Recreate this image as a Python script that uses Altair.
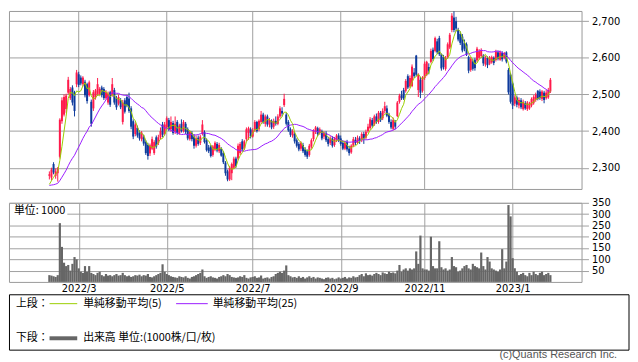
import altair as alt
import pandas as pd

# ---------------- data ----------------
tick_idx = [14, 56, 97, 139, 179, 221]
tick_labels = ["2022/3", "2022/5", "2022/7", "2022/9", "2022/11", "2023/1"]
price_ticks = [2300, 2400, 2500, 2600, 2700]
vol_ticks = [50, 100, 150, 200, 250, 300, 350]

# closes before the visible window (only used for the moving averages)
pre_closes = [2270, 2265, 2250, 2240, 2245, 2255, 2260, 2250, 2240, 2235, 2245, 2250,
              2260, 2255, 2250, 2245, 2240, 2250, 2255, 2260, 2245, 2240, 2250, 2255]

opens = [
    2278, 2273, 2310, 2278, 2285, 2330, 2427, 2445, 2460, 2505,
    2490, 2519, 2506, 2528, 2555, 2546, 2528, 2535, 2528, 2498,
    2480, 2462, 2492, 2500, 2502, 2519, 2515, 2490, 2478, 2506,
    2498, 2512, 2490, 2475, 2484, 2425, 2484, 2493, 2489, 2462,
    2427, 2392, 2409, 2396, 2378, 2383, 2370, 2362, 2339, 2352,
    2340, 2383, 2368, 2383, 2418, 2392, 2410, 2430, 2405, 2422,
    2398, 2425, 2395, 2420, 2400, 2420, 2405, 2378, 2395, 2385,
    2360, 2382, 2368, 2392, 2397, 2375, 2355, 2358, 2335, 2350,
    2365, 2345, 2352, 2340, 2314, 2290, 2268, 2285, 2300, 2325,
    2325, 2340, 2372, 2352, 2378, 2395, 2405, 2385, 2402, 2425,
    2405, 2425, 2445, 2420, 2440, 2418, 2428, 2412, 2428, 2420,
    2440, 2455, 2471, 2445, 2425, 2405, 2388, 2392, 2375, 2365,
    2352, 2362, 2350, 2345, 2335, 2358, 2378, 2398, 2408, 2395,
    2400, 2385, 2395, 2378, 2368, 2380, 2362, 2375, 2388, 2380,
    2368, 2352, 2370, 2352, 2342, 2360, 2376, 2368, 2380, 2375,
    2392, 2382, 2400, 2408, 2430, 2418, 2440, 2425, 2450, 2435,
    2455, 2462, 2445, 2425, 2406, 2425, 2441, 2480, 2498, 2512,
    2510, 2550, 2522, 2523, 2560, 2606, 2512, 2540, 2510, 2545,
    2554, 2575, 2589, 2622, 2619, 2645, 2654, 2610, 2602, 2570,
    2602, 2628, 2676, 2710, 2700, 2676, 2665, 2658, 2640, 2637,
    2602, 2567, 2590, 2595, 2593, 2600, 2605, 2606, 2582, 2600,
    2584, 2588, 2600, 2594, 2615, 2595, 2613, 2600, 2615, 2567,
    2554, 2530, 2475, 2492, 2470, 2484, 2460, 2476, 2460, 2462,
    2470, 2476, 2485, 2510, 2508, 2488, 2505, 2490, 2492, 2508,
]
highs = [
    2290, 2300, 2315, 2298, 2302, 2435, 2492, 2500, 2502, 2548,
    2520, 2525, 2510, 2567, 2562, 2552, 2550, 2540, 2532, 2538,
    2486, 2512, 2515, 2545, 2520, 2524, 2520, 2512, 2508, 2510,
    2545, 2518, 2496, 2500, 2490, 2485, 2490, 2498, 2505, 2468,
    2432, 2424, 2415, 2402, 2400, 2390, 2375, 2368, 2366, 2385,
    2375, 2388, 2390, 2410, 2425, 2425, 2440, 2436, 2440, 2428,
    2440, 2430, 2420, 2432, 2430, 2425, 2410, 2402, 2400, 2392,
    2388, 2388, 2390, 2430, 2402, 2380, 2362, 2362, 2362, 2372,
    2370, 2368, 2356, 2345, 2318, 2295, 2305, 2314, 2330, 2330,
    2366, 2370, 2378, 2376, 2410, 2412, 2410, 2408, 2430, 2428,
    2432, 2455, 2450, 2445, 2445, 2436, 2432, 2434, 2440, 2446,
    2468, 2465, 2502, 2450, 2430, 2410, 2405, 2397, 2380, 2370,
    2372, 2368, 2356, 2350, 2365, 2380, 2405, 2414, 2412, 2410,
    2404, 2400, 2400, 2384, 2386, 2386, 2384, 2392, 2394, 2388,
    2375, 2374, 2376, 2360, 2364, 2384, 2384, 2388, 2386, 2397,
    2398, 2404, 2420, 2438, 2436, 2445, 2448, 2455, 2455, 2462,
    2480, 2470, 2450, 2432, 2437, 2430, 2482, 2502, 2510, 2518,
    2542, 2555, 2552, 2582, 2572, 2608, 2558, 2548, 2550, 2590,
    2592, 2585, 2625, 2628, 2658, 2652, 2660, 2612, 2608, 2605,
    2642, 2668, 2722, 2727, 2712, 2682, 2672, 2665, 2650, 2642,
    2606, 2602, 2598, 2600, 2630, 2624, 2626, 2610, 2606, 2604,
    2605, 2606, 2604, 2622, 2620, 2620, 2618, 2616, 2618, 2572,
    2558, 2535, 2498, 2497, 2492, 2490, 2486, 2482, 2482, 2480,
    2492, 2498, 2505, 2512, 2514, 2512, 2510, 2512, 2518, 2545,
]
lows = [
    2268, 2265, 2282, 2270, 2262, 2325, 2420, 2440, 2450, 2500,
    2485, 2470, 2440, 2520, 2520, 2525, 2522, 2492, 2475, 2494,
    2412, 2455, 2486, 2496, 2498, 2492, 2485, 2486, 2472, 2466,
    2494, 2472, 2458, 2470, 2460, 2418, 2448, 2465, 2450, 2405,
    2378, 2386, 2382, 2374, 2372, 2360, 2335, 2322, 2332, 2348,
    2335, 2352, 2362, 2378, 2383, 2388, 2405, 2400, 2398, 2390,
    2392, 2390, 2390, 2396, 2396, 2392, 2375, 2374, 2372, 2352,
    2355, 2360, 2362, 2388, 2366, 2344, 2340, 2328, 2330, 2345,
    2342, 2340, 2330, 2310, 2278, 2263, 2264, 2266, 2296, 2300,
    2320, 2335, 2345, 2348, 2372, 2376, 2380, 2382, 2398, 2396,
    2400, 2420, 2420, 2412, 2412, 2410, 2405, 2406, 2415, 2416,
    2435, 2440, 2466, 2415, 2398, 2384, 2382, 2366, 2355, 2345,
    2346, 2340, 2330, 2324, 2330, 2352, 2372, 2392, 2386, 2390,
    2375, 2378, 2370, 2358, 2362, 2355, 2357, 2370, 2370, 2360,
    2348, 2348, 2344, 2333, 2338, 2356, 2362, 2364, 2365, 2370,
    2365, 2378, 2395, 2404, 2410, 2414, 2420, 2420, 2425, 2430,
    2448, 2438, 2420, 2405, 2402, 2405, 2438, 2475, 2485, 2485,
    2505, 2515, 2518, 2520, 2545, 2550, 2493, 2490, 2505, 2540,
    2550, 2555, 2585, 2592, 2615, 2610, 2605, 2565, 2568, 2565,
    2598, 2624, 2670, 2670, 2672, 2645, 2635, 2615, 2618, 2605,
    2558, 2562, 2565, 2565, 2588, 2595, 2600, 2578, 2576, 2572,
    2580, 2584, 2580, 2590, 2593, 2592, 2590, 2596, 2585, 2500,
    2475, 2460, 2468, 2465, 2462, 2460, 2456, 2458, 2455, 2458,
    2465, 2472, 2480, 2484, 2485, 2482, 2476, 2486, 2488, 2504,
]
closes = [
    2282, 2295, 2287, 2290, 2298, 2431, 2484, 2493, 2497, 2540,
    2515, 2478, 2455, 2560, 2526, 2530, 2546, 2498, 2482, 2533,
    2420, 2506, 2511, 2528, 2515, 2498, 2490, 2506, 2502, 2472,
    2528, 2478, 2465, 2493, 2465, 2478, 2453, 2470, 2455, 2412,
    2385, 2418, 2388, 2380, 2396, 2366, 2340, 2332, 2361, 2378,
    2370, 2358, 2383, 2400, 2390, 2418, 2435, 2405, 2425, 2395,
    2420, 2395, 2415, 2400, 2425, 2398, 2380, 2398, 2378, 2360,
    2380, 2365, 2385, 2418, 2370, 2348, 2345, 2332, 2358, 2368,
    2347, 2362, 2333, 2315, 2285, 2268, 2300, 2310, 2325, 2305,
    2360, 2365, 2350, 2372, 2405, 2408, 2385, 2402, 2425, 2400,
    2428, 2445, 2425, 2440, 2418, 2430, 2410, 2428, 2420, 2440,
    2462, 2448, 2488, 2420, 2402, 2390, 2400, 2372, 2360, 2350,
    2368, 2345, 2335, 2330, 2360, 2375, 2400, 2410, 2392, 2405,
    2380, 2395, 2375, 2365, 2380, 2360, 2378, 2388, 2375, 2365,
    2352, 2368, 2350, 2340, 2360, 2378, 2368, 2382, 2372, 2392,
    2380, 2398, 2412, 2432, 2415, 2440, 2425, 2450, 2430, 2455,
    2468, 2442, 2425, 2410, 2430, 2412, 2478, 2497, 2490, 2489,
    2537, 2519, 2545, 2576, 2550, 2554, 2554, 2505, 2545, 2584,
    2589, 2565, 2619, 2597, 2654, 2615, 2610, 2571, 2575, 2600,
    2637, 2663, 2715, 2676, 2680, 2650, 2641, 2620, 2625, 2610,
    2565, 2597, 2570, 2572, 2625, 2618, 2620, 2585, 2600, 2580,
    2600, 2602, 2586, 2617, 2598, 2615, 2596, 2613, 2590, 2506,
    2480, 2470, 2492, 2472, 2485, 2465, 2480, 2462, 2478, 2475,
    2488, 2493, 2500, 2488, 2490, 2508, 2485, 2505, 2512, 2540,
]
volumes = [
    30, 28, 25, 22, 30, 260, 155, 85, 70, 75,
    50, 80, 110, 100, 60, 45, 40, 70, 45, 70,
    40, 35, 30, 40, 45, 30, 25, 35, 28, 30,
    25, 30, 35, 28, 30, 40, 30, 25, 28, 22,
    25, 30, 28, 32, 25, 30, 28, 35, 22, 20,
    25, 30, 35, 40, 78, 45, 35, 30, 25, 22,
    20, 18, 25, 22, 20, 25, 18, 15, 22, 25,
    30, 35, 40, 55, 25, 18, 22, 25, 20, 18,
    15, 22, 25, 30, 25, 35, 30, 22, 20, 18,
    20, 25, 22, 30, 18, 15, 20, 22, 25, 18,
    20, 28, 15, 18, 20, 15, 22, 25, 35, 40,
    45, 40, 50, 73, 30, 25, 20, 22, 18, 25,
    18, 22, 15, 20, 25, 18, 22, 15, 20, 18,
    15, 12, 18, 20, 15, 18, 12, 15, 20, 15,
    18, 22, 15, 20, 18, 25, 20, 22, 30, 35,
    25, 38, 30, 32, 28, 35, 40, 35, 30, 42,
    38, 35, 45, 40, 42, 38, 50, 75, 45, 55,
    60, 50, 60, 55, 60, 135, 80, 205, 60, 55,
    55, 50, 200, 70, 60, 60, 180, 65, 55, 60,
    50, 55, 110, 70, 65, 45, 50, 60, 70, 75,
    60, 55, 80, 70, 65, 60, 130, 70, 55, 110,
    90, 60, 55, 50, 45, 55, 145, 60, 90, 340,
    290, 105, 60, 45, 30, 35, 40, 30, 25, 40,
    30, 45, 35, 30, 40, 45, 30, 35, 40, 30,
]

# ---------------- table ----------------
n = len(closes)
df = pd.DataFrame({"i": list(range(n)), "o": opens, "h": highs, "l": lows,
                   "c": closes, "v": volumes})
df["dir"] = ["up" if c >= o else "down" for o, c in zip(opens, closes)]
allc = pd.Series(pre_closes + closes, dtype=float)
df["ma5"] = allc.rolling(5, min_periods=1).mean().iloc[len(pre_closes):].values
df["ma25"] = allc.rolling(25, min_periods=1).mean().iloc[len(pre_closes):].values
grid_df = pd.DataFrame({"t": tick_idx})

UP, DOWN = "#ff1a4b", "#0d3a9c"
MA5C, MA25C = "#9acd00", "#9a1cff"
GRID = "#a0a0a0"
JP = "Noto Sans CJK JP"

W = 579
xs = alt.Scale(domain=[-16.9, 251.5], nice=False, zero=False)
col = alt.Color("dir:N", scale=alt.Scale(domain=["up", "down"], range=[UP, DOWN]), legend=None)

label_expr = " : ".join(f"datum.value == {t} ? '{l}'" for t, l in zip(tick_idx, tick_labels)) + " : ''"

# ---------------- price panel ----------------
ys = alt.Scale(domain=[2242, 2728], nice=False, zero=False)
y_price = alt.Y("l:Q", scale=ys,
                axis=alt.Axis(values=price_ticks, format=",.0f", orient="right", grid=True,
                              tickSize=7, labelPadding=3, domain=False, title=None))

base = alt.Chart(df)
vgrid = alt.Chart(grid_df).mark_rule(color=GRID, strokeWidth=1).encode(
    x=alt.X("t:Q", scale=xs, axis=None))
wicks = base.mark_rule(strokeWidth=1).encode(
    x=alt.X("i:Q", scale=xs, axis=None), y=y_price, y2="h:Q", color=col)
bodies = base.mark_bar(size=2).encode(x="i:Q", y="o:Q", y2="c:Q", color=col)
ma5 = base.mark_line(strokeWidth=1, color=MA5C).encode(x="i:Q", y="ma5:Q")
ma25 = base.mark_line(strokeWidth=1, color=MA25C).encode(x="i:Q", y="ma25:Q")

price = alt.layer(vgrid, wicks, bodies, ma25, ma5).properties(width=W, height=180)

# ---------------- volume panel + legend ----------------
yv = alt.Scale(domain=[0, 350], nice=False, zero=True)
vbars = base.mark_bar(size=2.2, color="#666666").encode(
    x=alt.X("i:Q", scale=xs,
            axis=alt.Axis(values=tick_idx, labelExpr=label_expr, grid=True, ticks=False,
                          domain=False, labelPadding=2, title=None)),
    y=alt.Y("v:Q", scale=yv,
            axis=alt.Axis(values=vol_ticks, orient="right", grid=True, tickSize=7,
                          labelPadding=3, labelOverlap=False, domain=False, title=None)),
)

one = alt.Chart(pd.DataFrame({"k": [0]}))
unit_bg = one.mark_rect(fill="white").encode(
    x=alt.value(1), x2=alt.value(59), y=alt.value(2), y2=alt.value(14))
unit_txt = one.mark_text(text="単位: 1000", align="left", baseline="middle",
                         font=JP, fontSize=11, color="#000").encode(
    x=alt.value(5), y=alt.value(8))

box = one.mark_rect(fill="white", stroke="#000000", strokeWidth=1).encode(
    x=alt.value(0.5), x2=alt.value(627), y=alt.value(93), y2=alt.value(149))


def txt(s, x, y, **kw):
    return one.mark_text(text=s, align="left", baseline="middle", font=JP,
                         fontSize=11, color="#000", **kw).encode(x=alt.value(x), y=alt.value(y))


def seg(x1, x2, y, color, w):
    return one.mark_rule(color=color, strokeWidth=w).encode(
        x=alt.value(x1), x2=alt.value(x2), y=alt.value(y))


legend_parts = [
    box,
    txt("上段：", 7, 102),
    seg(41, 69, 102, MA5C, 1),
    txt("単純移動平均(5)", 75, 102),
    seg(169, 201, 102, MA25C, 1),
    txt("単純移動平均(25)", 206, 102),
    txt("下段：", 7, 137),
    seg(41, 69, 137, "#666666", 4),
    txt("出来高 単位:(1000株/口/枚)", 75, 137),
    one.mark_text(text="(c)Quants Research Inc.", align="right", baseline="middle",
                  font="Liberation Sans", fontSize=11, color="#555555").encode(
        x=alt.value(615), y=alt.value(154)),
]

volume = alt.layer(vbars, unit_bg, unit_txt, *legend_parts).properties(width=W, height=80)

chart = alt.vconcat(price, volume, spacing=7).properties(
    padding={"left": 0, "top": 0, "right": 0, "bottom": 0},
    background="white",
).configure_view(stroke="#999999", strokeWidth=1).configure_axis(
    gridColor=GRID, gridWidth=1, tickColor=GRID, labelColor="#000000",
    labelFont="DejaVu Sans", labelFontSize=10,
)

chart.save("out.html", embed_options={"renderer": "svg", "actions": False})
